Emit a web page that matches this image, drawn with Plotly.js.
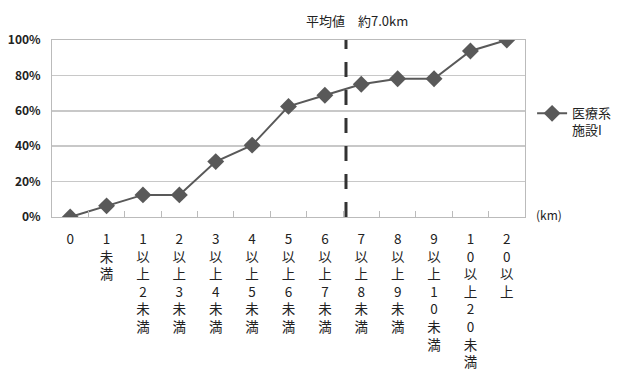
<!DOCTYPE html>
<html>
<head>
<meta charset="utf-8">
<script src="https://cdn.plot.ly/plotly-3.0.1.min.js"></script>
<style>
  html, body { margin: 0; padding: 0; background: #fff; }
  #chart { width: 618px; height: 369px; }
</style>
</head>
<body>
<div id="chart"></div>
<script>
// Distance bands (km) and cumulative share of medical facilities (%)
const categories = ["0", "1未満", "1以上2未満", "2以上3未満", "3以上4未満", "4以上5未満",
  "5以上6未満", "6以上7未満", "7以上8未満", "8以上9未満", "9以上10未満", "10以上20未満", "20以上"];
const cumulativePct = [0, 6.3, 12.5, 12.5, 31.3, 40.6, 62.5, 68.8, 75.0, 78.1, 78.1, 93.8, 100];
const seriesName = "医療系<br>施設I";
const yTickVals = [0, 20, 40, 60, 80, 100];
const yTickText = ["0%", "20%", "40%", "60%", "80%", "100%"];
const meanLabel = "平均値　約7.0km";
const unitLabel = "(km)";

// Each band label is written top-to-bottom, one character per line
const tickText = categories.map(c => Array.from(c).join("<br>"));

const font = { family: "'Noto Sans CJK JP', 'Noto Sans', sans-serif", color: "#222" };

const trace = {
  x: categories,
  y: cumulativePct,
  type: "scatter",
  mode: "lines+markers",
  name: seriesName,
  line: { color: "#595959", width: 2 },
  marker: { symbol: "diamond", size: 13, color: "#595959" },
  showlegend: true
};

const layout = {
  width: 618,
  height: 369,
  margin: { l: 52, r: 93, t: 40, b: 152, autoexpand: false },
  paper_bgcolor: "#fff",
  plot_bgcolor: "#fff",
  font: Object.assign({ size: 12 }, font),
  xaxis: {
    type: "category",
    tickmode: "array",
    tickvals: categories,
    ticktext: tickText,
    tickson: "boundaries",
    ticks: "inside",
    ticklen: 6,
    tickcolor: "#bbb",
    showgrid: false,
    showline: true,
    linecolor: "#bbb",
    linewidth: 1,
    mirror: true,
    tickfont: Object.assign({ size: 13.5 }, font),
    ticklabelstandoff: 10,
    range: [-0.5, 12.5],
    automargin: false,
    fixedrange: true
  },
  yaxis: {
    range: [0, 100],
    tickmode: "array",
    tickvals: yTickVals,
    ticktext: yTickText,
    showgrid: true,
    gridcolor: "#c8c8c8",
    gridwidth: 1.5,
    zeroline: false,
    showline: true,
    linecolor: "#bbb",
    linewidth: 1,
    mirror: true,
    ticks: "",
    ticklabelstandoff: 8,
    tickfont: Object.assign({ size: 12, weight: "bold" }, font),
    automargin: false,
    fixedrange: true
  },
  legend: {
    x: 1.015,
    y: 0.67,
    xanchor: "left",
    yanchor: "top",
    valign: "top",
    bgcolor: "rgba(0,0,0,0)",
    font: Object.assign({ size: 13 }, font)
  },
  shapes: [{
    type: "line",
    xref: "x",
    yref: "y",
    x0: 7.58, x1: 7.58,
    y0: 0, y1: 101,
    line: { color: "#333", width: 3, dash: "15px,13px" },
    layer: "above"
  }],
  annotations: [
    {
      text: meanLabel,
      xref: "paper", yref: "paper",
      x: (357 - 52) / 473, y: 1.0,
      xanchor: "center", yanchor: "bottom",
      yshift: 8,
      showarrow: false,
      font: Object.assign({ size: 13 }, font)
    },
    {
      text: unitLabel,
      xref: "paper", yref: "paper",
      x: 1.02, y: 0,
      xanchor: "left", yanchor: "middle",
      yshift: 3,
      showarrow: false,
      font: Object.assign({ size: 12 }, font)
    }
  ]
};

Plotly.newPlot("chart", [trace], layout, { displayModeBar: false, staticPlot: true });
</script>
</body>
</html>
